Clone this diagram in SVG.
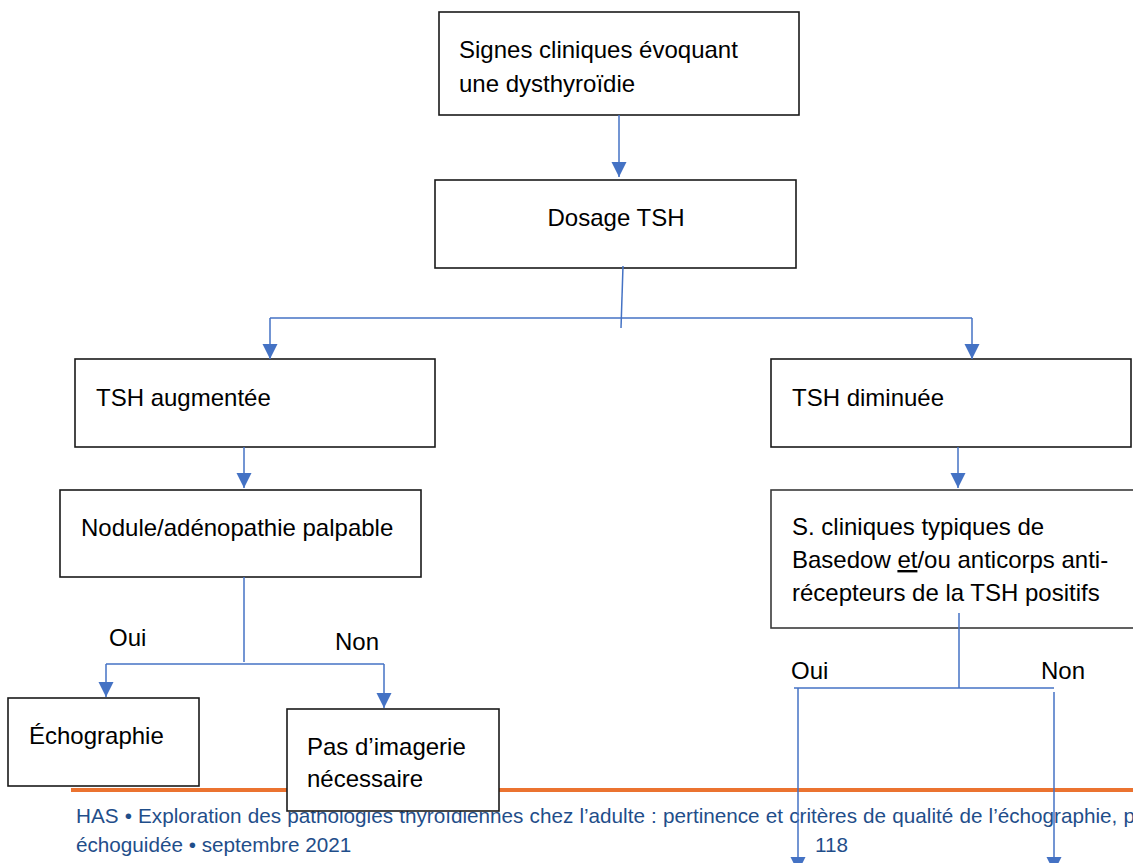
<svg xmlns="http://www.w3.org/2000/svg" width="1133" height="863" viewBox="0 0 1133 863">
<style>
.box{fill:#fff;stroke:#1a1a1a;stroke-width:1.6}
.t{font-family:"Liberation Sans",Arial,sans-serif;font-size:24px;fill:#000}
.lbl{font-family:"Liberation Sans",Arial,sans-serif;font-size:22px;fill:#000}
.ft{font-family:"Liberation Sans",Arial,sans-serif;font-size:20.7px;fill:#1F4E8A}
.c{fill:none;stroke:#4472C4;stroke-width:1.5}
</style>
<defs>
<marker id="ah" markerUnits="userSpaceOnUse" markerWidth="16" markerHeight="16" viewBox="0 0 16 16" refX="15" refY="8" orient="auto">
<path d="M0,0.5 L15,8 L0,15.5 Z" fill="#4472C4"/>
</marker>
</defs>
<g id="footer">
<rect x="71" y="788" width="1062" height="4" fill="#EB7330"/>
<text class="ft" x="76" y="823" word-spacing="0.4">HAS • Exploration des pathologies thyroïdiennes chez l’adulte : pertinence et critères de qualité de l’échographie, p</text>
<text class="ft" x="76" y="852">échoguidée • septembre 2021</text>
<text class="ft" x="815" y="852">118</text>
</g>
<g id="n1"><rect class="box" x="439" y="12" width="360" height="103"/>
<text class="t" x="459" y="58">Signes cliniques évoquant</text>
<text class="t" x="459" y="92">une dysthyroïdie</text></g>
<g id="n2"><rect class="box" x="435" y="180" width="361" height="88"/>
<text class="t" x="616" y="226" text-anchor="middle">Dosage TSH</text></g>
<g id="n3"><rect class="box" x="75" y="359" width="360" height="88"/>
<text class="t" x="96" y="406">TSH augmentée</text></g>
<g id="n4"><rect class="box" x="771" y="359" width="360" height="88"/>
<text class="t" x="792" y="406">TSH diminuée</text></g>
<g id="n5"><rect class="box" x="60" y="490" width="361" height="87"/>
<text class="t" x="81" y="536">Nodule/adénopathie palpable</text></g>
<g id="n6"><rect class="box" x="771" y="490" width="380" height="138" style="stroke:#3a3a3a"/>
<text class="t" x="792" y="535">S. cliniques typiques de</text>
<text class="t" x="792" y="568">Basedow <tspan text-decoration="underline">et</tspan>/ou anticorps anti-</text>
<text class="t" x="792" y="601">récepteurs de la TSH positifs</text></g>
<g id="n7"><rect class="box" x="8" y="698" width="191" height="88"/>
<text class="t" x="29" y="744">Échographie</text></g>
<g id="n8"><rect class="box" x="287" y="709" width="212" height="102"/>
<text class="t" x="307" y="755">Pas d’imagerie</text>
<text class="t" x="307" y="787">nécessaire</text></g>
<g id="labels">
<text class="t" x="109" y="646">Oui</text>
<text class="t" x="335" y="650">Non</text>
<text class="t" x="791" y="679">Oui</text>
<text class="t" x="1041" y="679">Non</text>
</g>
<g id="connectors">
<path class="c" d="M619,115 V177" marker-end="url(#ah)"/>
<path class="c" d="M623,266 L621,328"/>
<path class="c" d="M270,318 H972"/>
<path class="c" d="M270,318 V359" marker-end="url(#ah)"/>
<path class="c" d="M972,318 V359" marker-end="url(#ah)"/>
<path class="c" d="M244,447 V488" marker-end="url(#ah)"/>
<path class="c" d="M958,447 V488" marker-end="url(#ah)"/>
<path class="c" d="M244,577 V662"/>
<path class="c" d="M106,664 H384"/>
<path class="c" d="M106,664 V697" marker-end="url(#ah)"/>
<path class="c" d="M384,664 V708" marker-end="url(#ah)"/>
<path class="c" d="M959,613 V688"/>
<path class="c" d="M794,688 H1054"/>
<path class="c" d="M798,688 V872" marker-end="url(#ah)"/>
<path class="c" d="M1054,692 V872" marker-end="url(#ah)"/>
</g>
</svg>
